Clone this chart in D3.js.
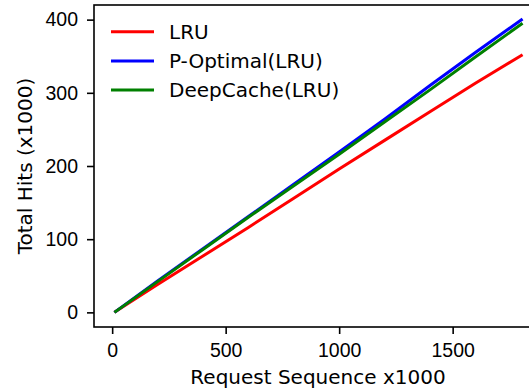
<!DOCTYPE html>
<html>
<head>
<meta charset="utf-8">
<script src="https://cdn.jsdelivr.net/npm/d3@7"></script>
<style>
  body { margin: 0; background: #fff; }
  svg { display: block; font-family: "DejaVu Sans", sans-serif; }
  .axis text { font-size: 19.5px; fill: #000; }
  .axis path, .axis line { stroke: #000; stroke-width: 1.6; }
</style>
</head>
<body>
<div id="chart"></div>
<script>
var width = 529, height = 389;
var padding = { t: 5, l: 94, b: 62 };
var plotRight = 543; // right spine falls just outside the picture

// request sequence (x1000)
var requests = [10, 200, 400, 600, 800, 1000, 1200, 1400, 1600, 1808];
// total hits (x1000)
var lruHits = [0, 38, 77, 116, 156, 196, 235, 274, 313, 352];
var optimalHits = [0, 43, 87, 131, 175, 219, 264, 310, 355, 401];
var deepCacheHits = [0, 42, 86, 130, 173, 216, 260, 304, 349, 395];

var seriesNames = ["LRU", "P-Optimal(LRU)", "DeepCache(LRU)"];
var seriesColors = ["#ff0000", "#0000ff", "#008000"];
var xTicks = [0, 500, 1000, 1500];
var yTicks = [0, 100, 200, 300, 400];

var series = [lruHits, optimalHits, deepCacheHits].map((vals, i) => ({
    name: seriesNames[i],
    color: seriesColors[i],
    points: vals.map((v, j) => ({ x: requests[j], y: v }))
}));

var svg = d3.select("#chart").append("svg")
    .attr("width", width)
    .attr("height", height);

var xScale = d3.scaleLinear().domain([-80, 1898]).range([padding.l, plotRight]);
var yScale = d3.scaleLinear().domain([-20, 420]).range([height - padding.b, padding.t]);

//Lines
var line = d3.line().x(d => xScale(d.x)).y(d => yScale(d.y));

svg.append("g").selectAll("path")
    .data(series)
    .enter().append("path")
    .attr("d", d => line(d.points))
    .attr("fill", "none")
    .attr("stroke", d => d.color)
    .attr("stroke-width", 3);

//Frame
svg.append("rect")
    .attr("x", padding.l)
    .attr("y", padding.t)
    .attr("width", plotRight - padding.l)
    .attr("height", height - padding.b - padding.t)
    .attr("fill", "none")
    .attr("stroke", "#000")
    .attr("stroke-width", 1.6);

//Axes
svg.append("g")
    .attr("class", "axis")
    .attr("transform", `translate(0, ${height - padding.b})`)
    .call(d3.axisBottom(xScale).tickValues(xTicks).tickFormat(d3.format("d"))
        .tickSize(7).tickPadding(9).tickSizeOuter(0))
    .select(".domain").remove();

svg.append("g")
    .attr("class", "axis")
    .attr("transform", `translate(${padding.l}, 0)`)
    .call(d3.axisLeft(yScale).tickValues(yTicks).tickFormat(d3.format("d"))
        .tickSize(7).tickPadding(9).tickSizeOuter(0))
    .select(".domain").remove();

//Axis labels
svg.append("text")
    .attr("x", 318)
    .attr("y", 384)
    .attr("text-anchor", "middle")
    .style("font-size", "20px")
    .text("Request Sequence x1000");

svg.append("text")
    .attr("transform", "translate(31.5, 166) rotate(-90)")
    .attr("text-anchor", "middle")
    .style("font-size", "20px")
    .text("Total Hits (x1000)");

//Legend
var legend = svg.append("g").selectAll("g")
    .data(series)
    .enter().append("g")
    .attr("transform", (d, i) => `translate(111, ${31.7 + i * 29.2})`);

legend.append("line")
    .attr("x1", 0).attr("x2", 43)
    .attr("stroke", d => d.color)
    .attr("stroke-width", 3);

legend.append("text")
    .attr("x", 58)
    .attr("dy", "0.36em")
    .style("font-size", "20px")
    .text(d => d.name);
</script>
</body>
</html>
